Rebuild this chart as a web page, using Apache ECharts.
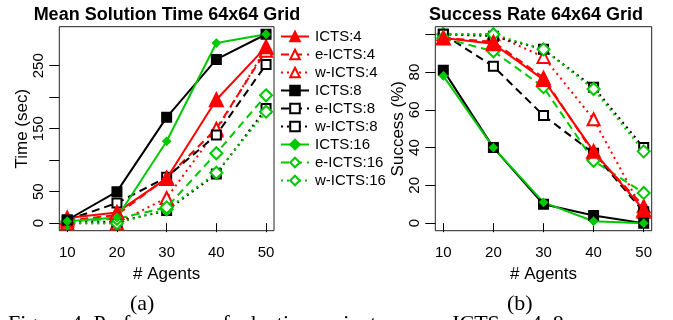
<!DOCTYPE html>
<html>
<head>
<meta charset="utf-8">
<script src="https://cdn.jsdelivr.net/npm/echarts@6/dist/echarts.min.js"></script>
<style>
html,body{margin:0;padding:0;background:#fff;}
#c{width:673px;height:320px;}
</style>
</head>
<body>
<div id="c"></div>
<script>
const agents = [10, 20, 30, 40, 50];
const seriesNames = ['ICTS:4','e-ICTS:4','w-ICTS:4','ICTS:8','e-ICTS:8','w-ICTS:8','ICTS:16','e-ICTS:16','w-ICTS:16'];

// Mean solution time (sec)
const timeICTS4   = [8, 17, 71, 196, 280];
const timeEICTS4  = [4, 13, 72, 150, 274];
const timeWICTS4  = [0, 0, 40, 147, 278];
const timeICTS8   = [5, 50, 168, 260, 300];
const timeEICTS8  = [5, 32, 73, 140, 252];
const timeWICTS8  = [3, 2, 20, 78, 182];
const timeICTS16  = [3, 9, 130, 286, 300];
const timeEICTS16 = [3, 7, 25, 111, 203];
const timeWICTS16 = [0, 0, 22, 80, 177];

// Success rate (%)
const succICTS4   = [98, 95, 76, 38, 7];
const succEICTS4  = [98, 96, 77, 37, 9];
const succWICTS4  = [100, 100, 88, 55, 6];
const succICTS8   = [81, 40, 10, 4, 0];
const succEICTS8  = [100, 83, 57, 37, 6];
const succWICTS8  = [100, 99, 92, 72, 40];
const succICTS16  = [78, 40, 11, 1, 0];
const succEICTS16 = [98, 91, 72, 33, 16];
const succWICTS16 = [100, 100, 92, 71, 38];

const xTicks = [10, 20, 30, 40, 50];
const timeTicks = [0, 50, 100, 150, 200, 250];
const timeLabels = [0, 50, 150, 250];
const succTicks = [0, 20, 40, 60, 80, 100];
const succLabels = [0, 20, 40, 60, 80];

const timeData = [timeICTS4,timeEICTS4,timeWICTS4,timeICTS8,timeEICTS8,timeWICTS8,timeICTS16,timeEICTS16,timeWICTS16];
const succData = [succICTS4,succEICTS4,succWICTS4,succICTS8,succEICTS8,succWICTS8,succICTS16,succEICTS16,succWICTS16];

const RED = '#ff0000', BLACK = '#000000', GREEN = '#00c800';
const styles = [
  {color: RED,   symbol: 'triangle',      size: 13, type: 'solid'},
  {color: RED,   symbol: 'emptyTriangle', size: 12, type: [8,5]},
  {color: RED,   symbol: 'emptyTriangle', size: 12, type: [2,4]},
  {color: BLACK, symbol: 'rect',          size: 9,  type: 'solid'},
  {color: BLACK, symbol: 'emptyRect',     size: 9,  type: [8,5]},
  {color: BLACK, symbol: 'emptyRect',     size: 9,  type: [2,4]},
  {color: GREEN, symbol: 'diamond',       size: 7,  type: 'solid'},
  {color: GREEN, symbol: 'emptyDiamond',  size: 12, type: [8,5]},
  {color: GREEN, symbol: 'emptyDiamond',  size: 12, type: [2,4]}
];

const FONT = 'Liberation Sans';

function makeSeries(dataArr, idx) {
  return dataArr.map((vals, i) => ({
    name: seriesNames[i],
    type: 'line',
    xAxisIndex: idx, yAxisIndex: idx,
    data: agents.map((a, k) => [a, vals[k]]),
    symbol: styles[i].symbol,
    symbolSize: styles[i].size,
    showSymbol: true,
    animation: false,
    z: 10 - (i % 3),
    lineStyle: {color: styles[i].color, width: 2, type: styles[i].type},
    itemStyle: {color: styles[i].color, borderColor: styles[i].color, borderWidth: 2}
  }));
}

function xAxisDef(gridIndex) {
  return {
    type: 'value', gridIndex, min: 8.4, max: 51.6,
    name: '# Agents', nameLocation: 'middle', nameGap: 31,
    nameTextStyle: {fontFamily: FONT, fontSize: 17, color: '#000'},
    axisLine: {show: false},
    axisTick: {show: true, inside: false, length: 9, customValues: xTicks, lineStyle: {color: '#000', width: 1}},
    axisLabel: {customValues: xTicks, margin: 15, fontFamily: FONT, fontSize: 15, color: '#000'},
    splitLine: {show: false}
  };
}

function yAxisDef(gridIndex, min, max, ticks, labels, name) {
  return {
    type: 'value', gridIndex, min, max,
    name, nameLocation: 'middle', nameGap: 27,
    nameTextStyle: {fontFamily: FONT, fontSize: 17, color: '#000'},
    axisLine: {show: false},
    axisTick: {show: true, inside: false, length: 10, customValues: ticks, lineStyle: {color: '#000', width: 1}},
    axisLabel: {customValues: labels, rotate: 90, margin: 13, fontFamily: FONT, fontSize: 15, color: '#000'},
    splitLine: {show: false}
  };
}

const chart = echarts.init(document.getElementById('c'), null, {renderer: 'canvas'});
chart.setOption({
  backgroundColor: '#fff',
  animation: false,
  title: [
    {text: 'Mean Solution Time 64x64 Grid', left: 162, top: 1, textAlign: 'center',
     textStyle: {fontFamily: FONT, fontSize: 18, fontWeight: 'bold', color: '#000'}},
    {text: 'Success Rate 64x64 Grid', left: 531, top: 1, textAlign: 'center',
     textStyle: {fontFamily: FONT, fontSize: 18, fontWeight: 'bold', color: '#000'}}
  ],
  grid: [
    {left: 59.3, top: 26.7, width: 214.7, height: 204, show: true, borderColor: '#222', borderWidth: 1, backgroundColor: 'transparent'},
    {left: 435.3, top: 26.7, width: 216.4, height: 204, show: true, borderColor: '#222', borderWidth: 1, backgroundColor: 'transparent'}
  ],
  xAxis: [xAxisDef(0), xAxisDef(1)],
  yAxis: [
    yAxisDef(0, -12, 312, timeTicks, timeLabels, 'Time (sec)'),
    yAxisDef(1, -4, 104, succTicks, succLabels, 'Success (%)')
  ],
  legend: {
    orient: 'vertical', left: 275, top: 24,
    data: seriesNames,
    itemWidth: 28, itemHeight: 12, itemGap: 3,
    selectedMode: false,
    textStyle: {fontFamily: FONT, fontSize: 15, color: '#000', lineHeight: 12, padding: [0,0,0,1]}
  },
  graphic: [
    {type: 'text', left: 130, top: 293, style: {text: '(a)', font: '22px "Liberation Serif"', fill: '#000'}},
    {type: 'text', left: 507, top: 293, style: {text: '(b)', font: '22px "Liberation Serif"', fill: '#000'}},
    {type: 'text', left: 8, top: 313, style: {text: 'Figure 4: Performance of adaptive variants versus ICTS w. 4, 8', font: '22px "Liberation Serif"', fill: '#000'}}
  ],
  series: [...makeSeries(timeData, 0), ...makeSeries(succData, 1)]
});
</script>
</body>
</html>
